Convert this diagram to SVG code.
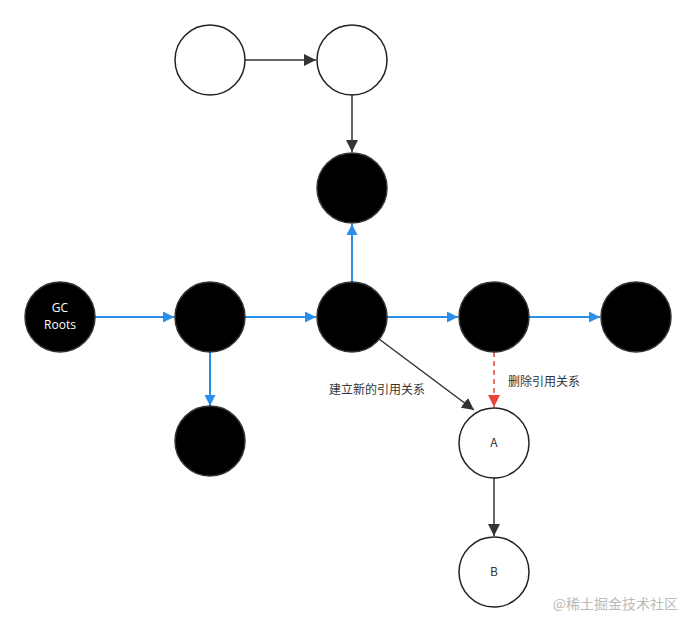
<svg xmlns="http://www.w3.org/2000/svg" width="696" height="630" viewBox="0 0 696 630">
<style>
.w{fill:#fff;stroke:#222;stroke-width:1.5}
.b{fill:#000;stroke:#333;stroke-width:1.5}
.bl{stroke:#2b8ee8;stroke-width:2;fill:none}
.dk{stroke:#333;stroke-width:1.5;fill:none}
.t{font-family:"Noto Sans CJK SC","Noto Sans",sans-serif;font-size:12px;fill:#333}
</style>
<defs>
<marker id="mb" viewBox="0 0 10 10" refX="10" refY="5" markerWidth="11" markerHeight="11" orient="auto" markerUnits="userSpaceOnUse"><path d="M0,0L10,5L0,10z" fill="#2b8ee8"/></marker>
<marker id="mk" viewBox="0 0 10 10" refX="10" refY="5" markerWidth="8" markerHeight="8" orient="auto"><path d="M0,0L10,5L0,10z" fill="#333"/></marker>
<marker id="mr" viewBox="0 0 10 10" refX="10" refY="5" markerWidth="8" markerHeight="8" orient="auto"><path d="M0,0L10,5L0,10z" fill="#e8443a"/></marker>
</defs>
<rect width="696" height="630" fill="#fff"/>
<g id="connectors">
<line class="dk" x1="245" y1="60" x2="316" y2="60" marker-end="url(#mk)"/>
<line class="dk" x1="352" y1="95" x2="352" y2="152" marker-end="url(#mk)"/>
<line class="bl" x1="95" y1="317" x2="174" y2="317" marker-end="url(#mb)"/>
<line class="bl" x1="245" y1="317" x2="316" y2="317" marker-end="url(#mb)"/>
<line class="bl" x1="387" y1="317" x2="458" y2="317" marker-end="url(#mb)"/>
<line class="bl" x1="529" y1="317" x2="600" y2="317" marker-end="url(#mb)"/>
<line class="bl" x1="352" y1="282" x2="352" y2="224" marker-end="url(#mb)"/>
<line class="bl" x1="210" y1="352" x2="210" y2="406" marker-end="url(#mb)"/>
<line class="dk" x1="379" y1="339" x2="474" y2="410" marker-end="url(#mk)"/>
<line x1="494" y1="352" x2="494" y2="407" stroke="#e8443a" stroke-width="1.5" stroke-dasharray="5,4" marker-end="url(#mr)"/>
<line class="dk" x1="494" y1="478" x2="494" y2="536" marker-end="url(#mk)"/>
<text class="t" x="329" y="394">建立新的引用关系</text>
<text class="t" x="508" y="386">删除引用关系</text>
</g>
<g id="n1"><circle class="w" cx="210" cy="60" r="35"/></g>
<g id="n2"><circle class="w" cx="352" cy="60" r="35"/></g>
<g id="n3"><circle class="b" cx="352" cy="188" r="35"/></g>
<g id="gc"><circle class="b" cx="60" cy="317" r="35"/><text x="60" y="312" text-anchor="middle" font-family="Open Sans,sans-serif" font-size="12" fill="#fff">GC</text><text x="60" y="329" text-anchor="middle" font-family="Open Sans,sans-serif" font-size="12" fill="#fff">Roots</text></g>
<g id="n4"><circle class="b" cx="210" cy="317" r="35"/></g>
<g id="n5"><circle class="b" cx="352" cy="317" r="35"/></g>
<g id="n6"><circle class="b" cx="494" cy="317" r="35"/></g>
<g id="n7"><circle class="b" cx="636" cy="317" r="35"/></g>
<g id="n8"><circle class="b" cx="210" cy="441" r="35"/></g>
<g id="A"><circle class="w" cx="494" cy="443" r="35"/><text class="t" x="494" y="447" text-anchor="middle">A</text></g>
<g id="B"><circle class="w" cx="494" cy="572" r="35"/><text class="t" x="494" y="576" text-anchor="middle">B</text></g>
<text x="678" y="609" text-anchor="end" font-family="Noto Sans CJK SC,sans-serif" font-size="14" fill="#bbb">@稀土掘金技术社区</text>
</svg>
